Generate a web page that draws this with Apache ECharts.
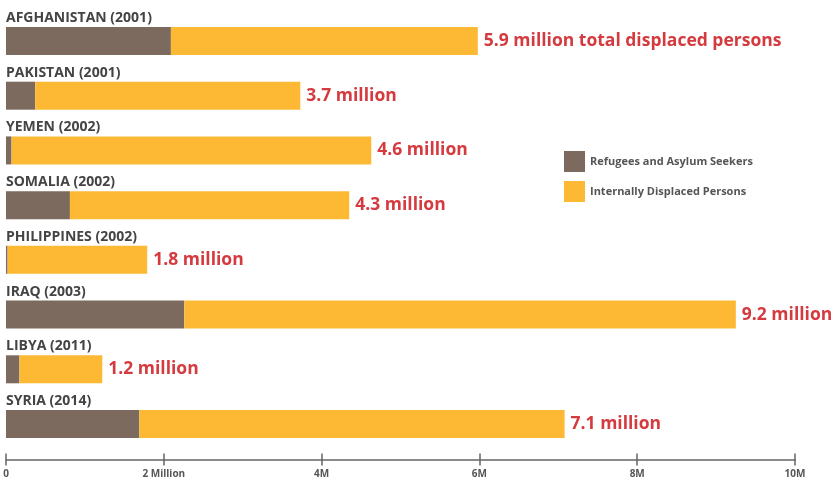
<!DOCTYPE html>
<html>
<head>
<meta charset="utf-8">
<script src="https://cdn.jsdelivr.net/npm/echarts@6/dist/echarts.min.js"></script>
<style>
    html, body { margin: 0; padding: 0; background: #fff; }
    #chart { width: 837px; height: 490px; }
</style>
</head>
<body>
<div id="chart"></div>
<script>
// values in millions of people
var countries = ['AFGHANISTAN (2001)', 'PAKISTAN (2001)', 'YEMEN (2002)', 'SOMALIA (2002)',
    'PHILIPPINES (2002)', 'IRAQ (2003)', 'LIBYA (2011)', 'SYRIA (2014)'];
var refugees = [2.09, 0.37, 0.07, 0.81, 0.02, 2.26, 0.17, 1.69];
var displaced = [3.89, 3.36, 4.56, 3.54, 1.77, 6.99, 1.05, 5.39];
var totalLabels = ['5.9 million total displaced persons', '3.7 million', '4.6 million', '4.3 million',
    '1.8 million', '9.2 million', '1.2 million', '7.1 million'];

(function () {
    var font = '"Open Sans", Lato, sans-serif';
    var myChart = echarts.init(document.getElementById('chart'));
    var option = {
        backgroundColor: '#fff',
        animation: false,
        textStyle: { fontFamily: font },
        legend: {
            orient: 'vertical',
            left: 559,
            top: 146,
            itemWidth: 21,
            itemHeight: 21,
            itemGap: 9,
            icon: 'rect',
            textStyle: { fontSize: 11, color: '#555', fontFamily: font, fontWeight: 'bold' },
            data: ['Refugees and Asylum Seekers', 'Internally Displaced Persons']
        },
        grid: { left: 6, right: 42, top: 13.6, bottom: 38.6 },
        xAxis: [
            {
                type: 'value',
                min: 0,
                max: 10,
                interval: 2,
                offset: 8,
                splitLine: { show: false },
                axisLine: { show: true, lineStyle: { color: '#666', width: 1.5 } },
                axisTick: { show: true, length: 6, lineStyle: { color: '#666', width: 1.5 } },
                axisLabel: {
                    margin: 10,
                    fontSize: 10,
                    color: '#555',
                    fontWeight: 'bold',
                    formatter: function (v) {
                        if (v === 0) return '0';
                        if (v === 2) return '2 Million';
                        return v + 'M';
                    }
                }
            },
            {
                type: 'value',
                position: 'bottom',
                min: 0,
                max: 10,
                interval: 2,
                offset: 8,
                splitLine: { show: false },
                axisLine: { show: false },
                axisTick: { show: true, inside: true, length: 6, lineStyle: { color: '#666', width: 1.5 } },
                axisLabel: { show: false }
            }
        ],
        yAxis: {
            type: 'category',
            inverse: true,
            data: countries,
            axisLine: { show: false },
            axisTick: { show: false },
            axisLabel: {
                inside: true,
                margin: 0,
                verticalAlign: 'bottom',
                padding: [0, 0, 16, 0],
                fontSize: 14,
                fontWeight: 'bold',
                color: '#444',
                fontFamily: font
            }
        },
        series: [
            {
                name: 'Refugees and Asylum Seekers',
                type: 'bar',
                stack: 'total',
                barWidth: 28,
                itemStyle: { color: '#7b6a5d' },
                data: refugees
            },
            {
                name: 'Internally Displaced Persons',
                type: 'bar',
                stack: 'total',
                barWidth: 28,
                itemStyle: { color: '#fdb934' },
                label: {
                    show: true,
                    position: 'right',
                    distance: 6,
                    fontSize: 17.5,
                    fontWeight: 'bold',
                    color: '#d43a3e',
                    fontFamily: font,
                    formatter: function (p) { return totalLabels[p.dataIndex]; }
                },
                data: displaced
            }
        ]
    };
    myChart.setOption(option);
})();
</script>
</body>
</html>
